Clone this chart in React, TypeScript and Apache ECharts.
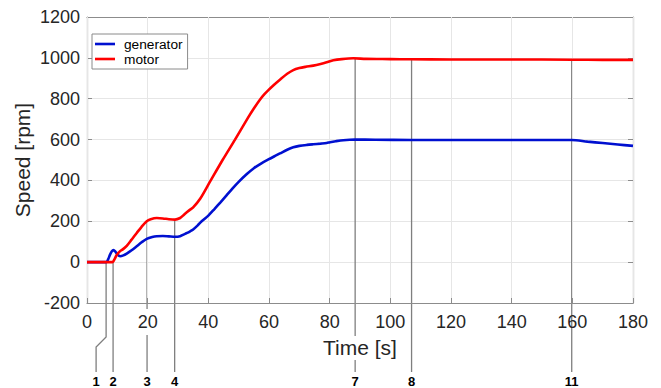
import React, { useEffect, useRef } from "react";
import * as echarts from "echarts";

// Generator speed samples [s, rpm]
const genTime = [0, 6.3, 7.0, 7.6, 8.2, 8.7, 9.3, 10.0, 10.9, 12.0, 13.1, 14.7, 16.4, 18.0, 19.7, 21.5, 23, 25, 27, 29, 30.7, 31.8, 33, 34, 35, 36.5, 37.8, 40, 42, 44, 46, 48, 50, 52.6, 55, 57.5, 59.8, 62, 63.6, 66, 68, 70, 72.5, 74.6, 77, 79, 80.1, 82, 84.5, 88.3, 95, 107, 130, 159.8, 165, 170, 175, 180];
const genSpeed = [0, 0, 15, 37, 53, 59, 53, 38, 29, 33, 42, 58, 78, 97, 114, 123, 127, 128, 126, 124, 127, 135, 143, 151, 160, 180, 200, 228, 260, 293, 327, 361, 393, 430, 460, 484, 503, 520, 532, 550, 562, 569, 574, 577, 580, 583, 587, 592, 597, 600, 599, 598, 598, 598, 590, 583, 576, 569];

// Motor speed samples [s, rpm]
const motTime = [0, 8.4, 9.0, 9.8, 11, 12, 13.1, 14.7, 16.4, 18, 19.7, 21, 23, 25, 27, 29, 30.7, 31.8, 33, 34, 35, 37.3, 40.6, 44.7, 48.8, 53, 55, 57, 58.5, 59.8, 61.5, 63.6, 66, 68, 70, 72, 74.6, 77, 79, 81.2, 84, 87.8, 92, 100, 106.5, 120, 140, 160, 170, 180];
const motSpeed = [0, 0, 12, 35, 55, 65, 80, 110, 143, 173, 200, 210, 216, 214, 210, 208, 216, 230, 245, 257, 268, 310, 395, 500, 600, 705, 752, 795, 822, 842, 866, 893, 922, 940, 950, 956, 962, 970, 978, 988, 994, 998, 995, 994, 993, 992, 992, 991, 990, 990];

// Event markers: time of each event, speed where its line starts, where its label sits
const markerLabels = ["1", "2", "3", "4", "7", "8", "11"];
const markerTime = [6.3, 8.6, 19.8, 28.9, 88.4, 107, 159.8];
const markerTop = [0, 0, 200, 208, 998, 993, 991];
const markerLabelTime = [3.0, 8.6, 19.8, 28.9, 88.4, 107, 159.8];

const xTicks = { min: 0, max: 180, interval: 20 };
const yTicks = { min: -200, max: 1200, interval: 200 };

const FONT = "'Liberation Sans', Arial, Helvetica, sans-serif";
const AXIS_GRAY = "#8c8c8c";
const GRID_GRAY = "#e6e6e6";
const TEXT = "#262626";

export default function App() {
  const ref = useRef<HTMLDivElement>(null);

  useEffect(() => {
    if (!ref.current) return;
    const chart = echarts.init(ref.current, undefined, { renderer: "svg" });

    const genData = genTime.map((t, i) => [t, genSpeed[i]]);
    const motData = motTime.map((t, i) => [t, motSpeed[i]]);
    const markerData = markerTime.map((t, i) => [t, markerTop[i], markerLabelTime[i], i]);

    const boxLine = { show: true, onZero: false, lineStyle: { color: AXIS_GRAY, width: 1.2 } };
    const boxTick = { show: true, inside: true, length: 5, lineStyle: { color: AXIS_GRAY } };

    // top and right axes close the plot box
    const boxAxisX = {
      type: "value",
      position: "top",
      min: xTicks.min,
      max: xTicks.max,
      interval: xTicks.interval,
      axisLine: boxLine,
      axisTick: boxTick,
      axisLabel: { show: false },
      splitLine: { show: false },
    };
    const boxAxisY = {
      type: "value",
      position: "right",
      min: yTicks.min,
      max: yTicks.max,
      interval: yTicks.interval,
      axisLine: boxLine,
      axisTick: boxTick,
      axisLabel: { show: false },
      splitLine: { show: false },
    };

    const tickRich = { fontSize: 18, color: TEXT, fontFamily: FONT, padding: [4, 2, 4, 2] };

    chart.setOption({
      animation: false,
      backgroundColor: "#ffffff",
      textStyle: { fontFamily: FONT },
      grid: { left: 87, right: 28, top: 17, height: 286 },
      legend: {
        data: ["generator", "motor"],
        orient: "vertical",
        left: 92,
        top: 34,
        padding: [3, 5, 3, 3],
        itemGap: 1,
        itemWidth: 20,
        itemHeight: 2.6,
        icon: "rect",
        backgroundColor: "#ffffff",
        borderColor: "#8a8a8a",
        borderWidth: 1,
        borderRadius: 0,
        textStyle: { fontSize: 13.7, color: "#000000", fontFamily: FONT, padding: [0, 0, 0, 4] },
      },
      xAxis: [
        {
          type: "value",
          position: "bottom",
          z: 3,
          min: xTicks.min,
          max: xTicks.max,
          interval: xTicks.interval,
          name: "Time [s]",
          nameLocation: "middle",
          nameMoveOverlap: false,
          nameGap: 33,
          nameTextStyle: {
            fontSize: 21,
            color: TEXT,
            fontFamily: FONT,
            backgroundColor: "#ffffff",
            padding: [1, 0, 2, 0],
          },
          axisLine: boxLine,
          axisTick: boxTick,
          axisLabel: {
            fontSize: 18,
            color: TEXT,
            fontFamily: FONT,
            margin: 6,
            formatter: (v: number) => (v === 20 ? "{w|" + v + "}" : "{a|" + v + "}"),
            rich: {
              a: tickRich,
              w: { ...tickRich, backgroundColor: "#ffffff" },
            },
          },
          splitLine: { show: true, lineStyle: { color: GRID_GRAY, width: 1 } },
        },
        boxAxisX,
      ],
      yAxis: [
        {
          type: "value",
          min: yTicks.min,
          max: yTicks.max,
          interval: yTicks.interval,
          name: "Speed [rpm]",
          nameLocation: "middle",
          nameMoveOverlap: false,
          nameGap: 54,
          nameTextStyle: { fontSize: 21, color: TEXT, fontFamily: FONT },
          axisLine: boxLine,
          axisTick: boxTick,
          axisLabel: {
            fontSize: 18,
            color: TEXT,
            fontFamily: FONT,
            margin: 7,
            formatter: (v: number) => String(v),
          },
          splitLine: { show: true, lineStyle: { color: GRID_GRAY, width: 1 } },
        },
        boxAxisY,
      ],
      series: [
        {
          name: "markers",
          type: "custom",
          clip: false,
          z: 2,
          silent: true,
          data: markerData,
          renderItem: (params: any, api: any) => {
            const top = api.coord([api.value(0), api.value(1)]);
            const labelX = api.coord([api.value(2), 0])[0];
            const cs = params.coordSys;
            const axisY = cs.y + cs.height;
            const x = top[0];
            const endY = axisY + 69;
            const pts: number[][] = [[x, top[1]]];
            if (Math.abs(labelX - x) > 0.5) {
              pts.push([x, axisY + 34]);
              pts.push([labelX, axisY + 44]);
            }
            pts.push([labelX, endY]);
            return {
              type: "group",
              children: [
                {
                  type: "polyline",
                  shape: { points: pts },
                  style: { stroke: "#7f7f7f", lineWidth: 1.3, fill: null },
                },
                {
                  type: "text",
                  style: {
                    text: markerLabels[api.value(3)],
                    x: labelX,
                    y: endY + 9,
                    align: "center",
                    verticalAlign: "middle",
                    fontSize: 13,
                    fontWeight: "bold",
                    fontFamily: FONT,
                    fill: "#000000",
                  },
                },
              ],
            };
          },
        },
        {
          name: "generator",
          type: "line",
          z: 5,
          data: genData,
          showSymbol: false,
          symbol: "none",
          smooth: 0.3,
          lineStyle: { color: "#0010d0", width: 2.6 },
          itemStyle: { color: "#0010d0" },
        },
        {
          name: "motor",
          type: "line",
          z: 5,
          data: motData,
          showSymbol: false,
          symbol: "none",
          smooth: 0.3,
          lineStyle: { color: "#ff0000", width: 2.6 },
          itemStyle: { color: "#ff0000" },
        },
      ],
    });

    return () => chart.dispose();
  }, []);

  return <div ref={ref} style={{ width: 661, height: 388, position: "absolute", left: 0, top: 0 }} />;
}
